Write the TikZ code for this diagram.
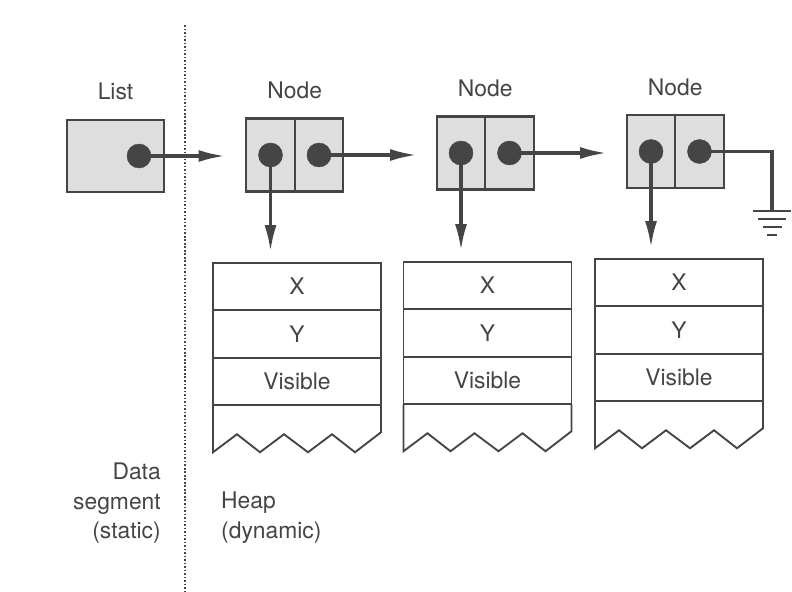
\documentclass[tikz,border=0pt]{standalone}
\usepackage{fontspec}
\setmainfont{TeX Gyre Heros}
\usetikzlibrary{arrows.meta,calc}
\usetikzlibrary{positioning}

\begin{document}
\begin{tikzpicture}[x=0.03cm,y=-0.03cm]

		    \definecolor{inkcolor}{rgb}{0.27,0.27,0.27}
		    \definecolor{cellcolor}{rgb}{0.87,0.87,0.87}
		    \tikzset{
		      txt/.style={font=\fontsize{19.5}{25}\selectfont,text=inkcolor,inner sep=0pt},
		      cell/.style={draw=inkcolor,line width=2pt,fill=cellcolor,minimum width=1.455cm,minimum height=2.19cm,outer sep=0pt},
		      ptr/.style={draw=inkcolor,fill=inkcolor,circle,minimum size=0.72cm,inner sep=0pt},
		      link/.style={-{Latex[length=0.8cm,width=0.36cm]},line width=2.8pt,draw=inkcolor},
		      heapcell/.style={txt,draw=inkcolor,line width=1.6pt,minimum width=5.04cm,minimum height=1.425cm,outer sep=0pt}
		    }
		    \fill[white] (0,0) rectangle (792,591);
		    \useasboundingbox (0,0) rectangle (792,591);

		    % data segment / heap border
		    \draw[inkcolor,line width=1.4pt,dash pattern=on 1.4pt off 1.6pt] (185,25) -- (185,591);

		    \node(list) [cell,minimum width=2.91cm,minimum height=2.16cm] at (115.5,156) {};
		    \node(listdot) [ptr] at (139,156) {};
		    \node(listlbl) [txt,above=0.6cm of list.north] {List};

		    \foreach \i/\x/\y in {1/270.5/155,2/461/153,3/651/151.5}{
		      \node(n\i a) [cell] at (\x,\y) {};
		      \node(n\i b) [cell,right=0pt of n\i a] {};
		      \node(n\i ad) [ptr] at (n\i a) {};
		      \node(n\i bd) [ptr] at (n\i b) {};
		      \node(n\i lbl) [txt,above=0.58cm of n\i a.north east] {Node};
		    }

		    \foreach \i/\x/\y in {1/297/286.5,2/487.5/285.5,3/679/282.5}{
		      \node(x\i) [heapcell] at (\x,\y) {X};
		      \node(y\i) [heapcell,below=0pt of x\i] {Y};
		      \node(vis\i) [heapcell,below=0pt of y\i] {Visible};
		      \draw[inkcolor,line width=1.6pt,line join=miter] (vis\i.south west) -- ++(0,47) -- ++(24,-18) -- ++(23,18) -- ++(24,-18) -- ++(24,18) -- ++(24,-18) -- ++(23,18) -- ++(26,-20) -- (vis\i.south east);
		      \draw[link,shorten >=0.33cm] (n\i ad.center) -- (n\i ad.center |- x\i.north);
		    }

		    \draw[link,shorten >=0.63cm] (listdot.center) -- (listdot.center -| n1a.west);
		    \draw[link,shorten >=0.6cm] (n1bd.center) -- (n1bd.center -| n2a.west);
		    \draw[link,shorten >=0.6cm] (n2bd.center) -- (n2bd.center -| n3a.west);

		    % ground
		    \coordinate(gnd) at (772,211);
		    \draw[inkcolor,line width=2.8pt] (n3bd.center) -| (gnd);
		    \draw[inkcolor,line width=2.5pt] ($(gnd)+(-19,0)$) -- ++(38,0);
		    \draw[inkcolor,line width=2.5pt] ($(gnd)+(-14,8)$) -- ++(28,0);
		    \draw[inkcolor,line width=2.5pt] ($(gnd)+(-9.5,16)$) -- ++(19,0);
		    \draw[inkcolor,line width=2.5pt] ($(gnd)+(-5,24)$) -- ++(10,0);

		    \node(datalbl) [txt,align=right,anchor=north east] at (161,463) {Data\\segment\\(static)};
		    \node(heaplbl) [txt,align=left,anchor=north west] at (221,492) {Heap\\(dynamic)};

\end{tikzpicture}
\end{document}
